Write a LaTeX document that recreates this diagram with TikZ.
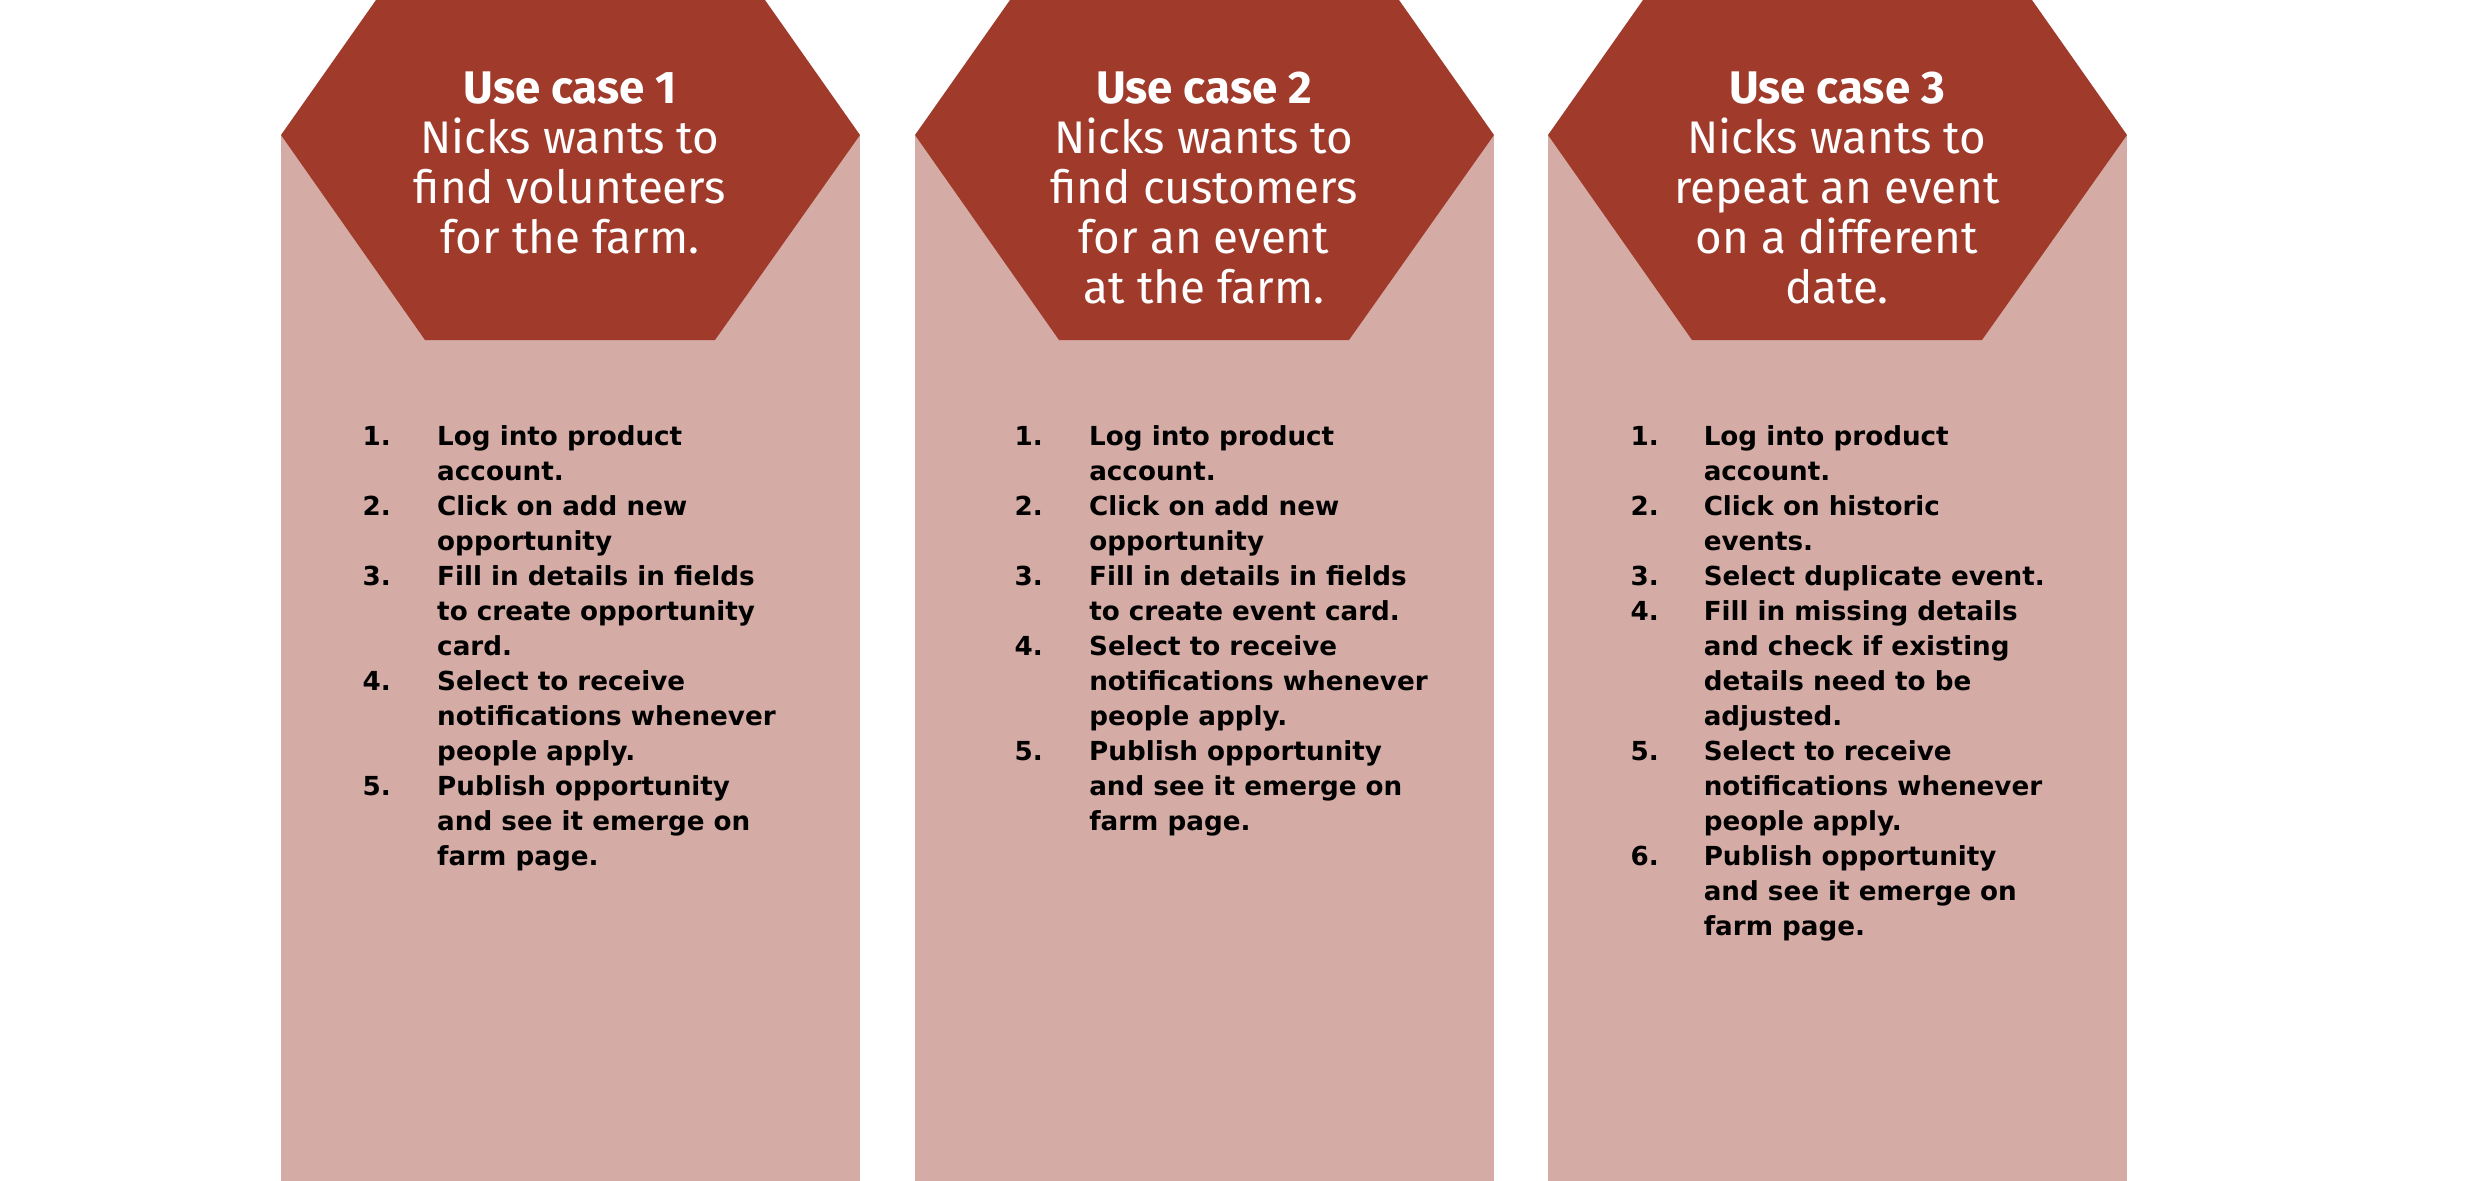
\documentclass[tikz,border=0pt]{standalone}
\usepackage{fontspec}
\setmainfont{DejaVu Sans}
\newfontfamily\headfont{Fira Sans}
\usetikzlibrary{positioning}
\definecolor{brick}{HTML}{A03B2C}
\definecolor{blush}{HTML}{D4ACA5}

\tikzset{
  casehead/.style={text=white, align=center, inner sep=0pt,
    font=\headfont\fontsize{13}{14.2}\selectfont},
  casesteps/.style={anchor=base west, inner sep=0pt,
    font=\bfseries\fontsize{7.45}{9.96}\selectfont}
}

\begin{document}
\begin{tikzpicture}[x=0.01cm, y=-0.01cm]
\useasboundingbox (0,0) rectangle (2480,1181);
\clip (0,0) rectangle (2480,1181);

% Panels with hexagon heads
\foreach \x in {281, 915, 1548} {
    \fill[blush] (\x,135) rectangle ++(579,1046);
    \fill[brick] (\x+95,0) -- (\x,135) -- (\x+144,340) -- (\x+434,340)
        -- (\x+579,135) -- (\x+484,0) -- cycle;
}

% Use case titles
\node[casehead] (head1) at (570,163) {\textbf{Use case 1}\\Nicks wants to\\find volunteers\\for the farm.};
\node[casehead] (head2) at (1204,188) {\textbf{Use case 2}\\Nicks wants to\\find customers\\for an event\\at the farm.};
\node[casehead] (head3) at (1837,188) {\textbf{Use case 3}\\Nicks wants to\\repeat an event\\on a different\\date.};

% Steps
\node[casesteps] (steps1) at (362,445) {\begin{tabular}[t]{@{}p{0.745cm}@{}l@{}}
1. & Log into product\\
   & account.\\
2. & Click on add new\\
   & opportunity\\
3. & Fill in details in fields\\
   & to create opportunity\\
   & card.\\
4. & Select to receive\\
   & notifications whenever\\
   & people apply.\\
5. & Publish opportunity\\
   & and see it emerge on\\
   & farm page.
\end{tabular}};
\node[casesteps] (steps2) at (1014,445) {\begin{tabular}[t]{@{}p{0.745cm}@{}l@{}}
1. & Log into product\\
   & account.\\
2. & Click on add new\\
   & opportunity\\
3. & Fill in details in fields\\
   & to create event card.\\
4. & Select to receive\\
   & notifications whenever\\
   & people apply.\\
5. & Publish opportunity\\
   & and see it emerge on\\
   & farm page.
\end{tabular}};
\node[casesteps] (steps3) at (1630,445) {\begin{tabular}[t]{@{}p{0.73cm}@{}l@{}}
1. & Log into product\\
   & account.\\
2. & Click on historic\\
   & events.\\
3. & Select duplicate event.\\
4. & Fill in missing details\\
   & and check if existing\\
   & details need to be\\
   & adjusted.\\
5. & Select to receive\\
   & notifications whenever\\
   & people apply.\\
6. & Publish opportunity\\
   & and see it emerge on\\
   & farm page.
\end{tabular}};

\end{tikzpicture}
\end{document}
